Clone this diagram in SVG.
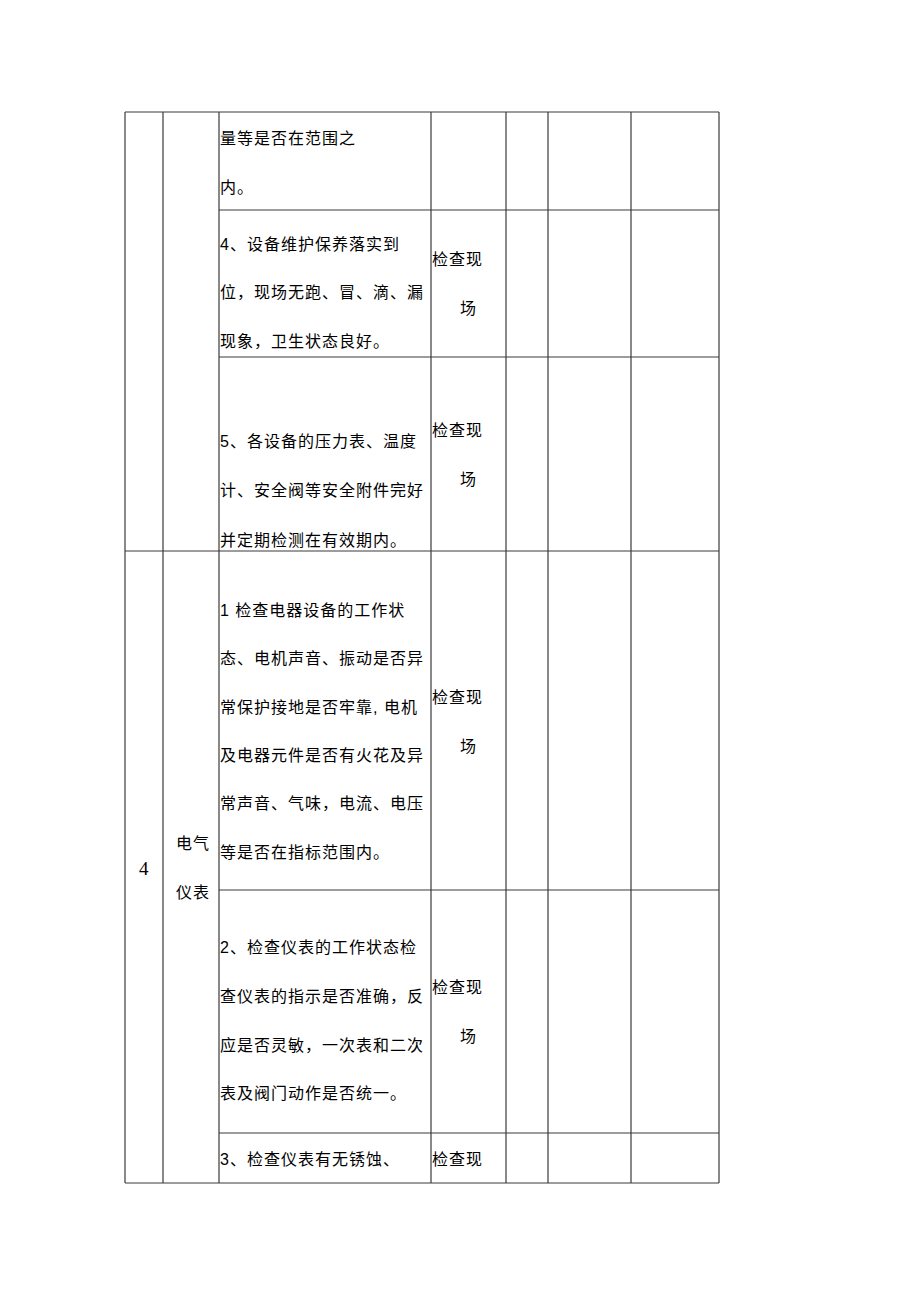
<svg xmlns="http://www.w3.org/2000/svg" width="920" height="1301" viewBox="0 0 920 1301">
<style>
.g line{stroke:#3a3a3a;stroke-width:1.2}
text{font-family:"Liberation Sans","Noto Sans CJK SC",sans-serif;font-size:16px;fill:#000;letter-spacing:1px}
.n{font-family:"Liberation Serif","Noto Sans CJK SC",serif;font-size:19px;letter-spacing:0}
</style>
<rect width="920" height="1301" fill="#fff"/>
<g id="grid" class="g">
<line x1="125" y1="112" x2="719" y2="112"/>
<line x1="219" y1="210" x2="719" y2="210"/>
<line x1="219" y1="357" x2="719" y2="357"/>
<line x1="125" y1="551" x2="719" y2="551"/>
<line x1="219" y1="890" x2="719" y2="890"/>
<line x1="219" y1="1133" x2="719" y2="1133"/>
<line x1="125" y1="1183" x2="719" y2="1183"/>
<line x1="125" y1="112" x2="125" y2="1183"/>
<line x1="163" y1="112" x2="163" y2="1183"/>
<line x1="219" y1="112" x2="219" y2="1183"/>
<line x1="431" y1="112" x2="431" y2="1183"/>
<line x1="506" y1="112" x2="506" y2="1183"/>
<line x1="548" y1="112" x2="548" y2="1183"/>
<line x1="631" y1="112" x2="631" y2="1183"/>
<line x1="719" y1="112" x2="719" y2="1183"/>
</g>
<g id="row-3-cont">
<text x="220" y="144">量等是否在范围之</text>
<text x="220" y="193">内。</text>
</g>
<g id="row-3-4">
<text x="220" y="250">4、设备维护保养落实到</text>
<text x="220" y="298">位，现场无跑、冒、滴、漏</text>
<text x="220" y="347">现象，卫生状态良好。</text>
<text x="432" y="265">检查现</text>
<text x="460" y="314">场</text>
</g>
<g id="row-3-5">
<text x="220" y="447">5、各设备的压力表、温度</text>
<text x="220" y="496">计、安全阀等安全附件完好</text>
<text x="220" y="546">并定期检测在有效期内。</text>
<text x="432" y="436">检查现</text>
<text x="460" y="485">场</text>
</g>
<g id="section-4">
<text class="n" x="139" y="875">4</text>
<text x="176" y="849">电气</text>
<text x="176" y="898">仪表</text>
</g>
<g id="row-4-1">
<text x="220" y="616">1 检查电器设备的工作状</text>
<text x="220" y="664">态、电机声音、振动是否异</text>
<text x="220" y="713">常保护接地是否牢靠, 电机</text>
<text x="220" y="761">及电器元件是否有火花及异</text>
<text x="220" y="809">常声音、气味，电流、电压</text>
<text x="220" y="858">等是否在指标范围内。</text>
<text x="432" y="703">检查现</text>
<text x="460" y="752">场</text>
</g>
<g id="row-4-2">
<text x="220" y="953">2、检查仪表的工作状态检</text>
<text x="220" y="1002">查仪表的指示是否准确，反</text>
<text x="220" y="1051">应是否灵敏，一次表和二次</text>
<text x="220" y="1099">表及阀门动作是否统一。</text>
<text x="432" y="993">检查现</text>
<text x="460" y="1042">场</text>
</g>
<g id="row-4-3">
<text x="220" y="1165">3、检查仪表有无锈蚀、</text>
<text x="432" y="1165">检查现</text>
</g>
</svg>
